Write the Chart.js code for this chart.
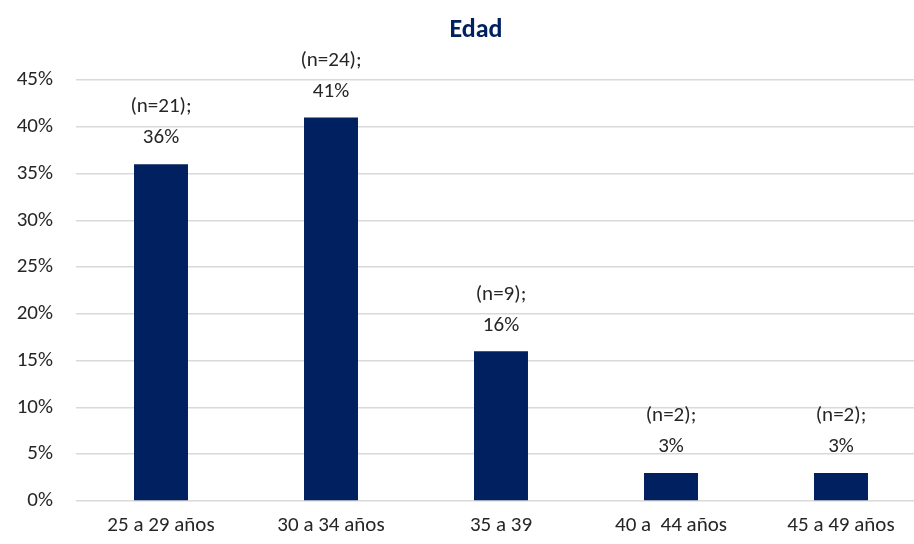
<!DOCTYPE html>
<html>
<head>
<meta charset="utf-8">
<script src="https://cdn.jsdelivr.net/npm/chart.js@4"></script>
<style>
  html, body { margin: 0; padding: 0; background: #fff; overflow: hidden; }
  #wrap { width: 914px; height: 544px; overflow: hidden; position: relative; }
  canvas { display: block; }
</style>
</head>
<body>
<div id="wrap"><canvas id="c" width="930" height="544"></canvas></div>
<script>
const categories = ["25 a 29 años", "30 a 34 años", "35 a 39", "40 a  44 años", "45 a 49 años"];
const percentValues = [36, 41, 16, 3, 3];
const countValues = [21, 24, 9, 2, 2];
const yTickMax = 45;
const yTickStep = 5;
const chartTitle = "Edad";

const FONT = "Carlito, Lato, 'Liberation Sans', sans-serif";

const labelPlugin = {
  id: 'barLabels',
  afterDatasetsDraw(chart) {
    const ctx = chart.ctx;
    const meta = chart.getDatasetMeta(0);
    ctx.save();
    ctx.fillStyle = '#262626';
    ctx.font = '21px ' + FONT;
    ctx.textAlign = 'center';
    ctx.textBaseline = 'middle';
    meta.data.forEach((bar, i) => {
      const x = bar.x;
      const top = bar.y;
      ctx.fillText(percentValues[i] + '%', x, top - 26);
      ctx.fillText('(n=' + countValues[i] + ');', x, top - 57);
    });
    ctx.restore();
  }
};

const titlePlugin = {
  id: 'customTitle',
  afterDraw(chart) {
    const ctx = chart.ctx;
    ctx.save();
    ctx.fillStyle = '#002060';
    ctx.font = 'bold 26px ' + FONT;
    ctx.textAlign = 'center';
    ctx.textBaseline = 'alphabetic';
    ctx.fillText(chartTitle, 476, 37);
    ctx.restore();
  }
};

new Chart(document.getElementById('c'), {
  type: 'bar',
  data: {
    labels: categories,
    datasets: [{
      data: percentValues,
      backgroundColor: '#002060',
      borderWidth: 0,
      barPercentage: 0.635,
      categoryPercentage: 0.5
    }]
  },
  options: {
    responsive: false,
    animation: false,
    devicePixelRatio: 1,
    layout: { padding: { left: 0, right: 4, top: 80, bottom: 0 } },
    plugins: {
      legend: { display: false },
      tooltip: { enabled: false },
      title: { display: false }
    },
    scales: {
      x: {
        grid: { display: false, drawTicks: false },
        border: { display: false },
        ticks: { color: '#262626', font: { family: FONT, size: 21 }, padding: 12, maxRotation: 0, autoSkip: false },
        afterFit(s) { s.height = 43; }
      },
      y: {
        min: 0,
        max: yTickMax,
        ticks: {
          stepSize: yTickStep,
          color: '#262626',
          font: { family: FONT, size: 21 },
          padding: 23,
          callback: v => v + '%'
        },
        grid: { color: '#d9d9d9', lineWidth: 1.5, drawTicks: false },
        border: { display: false },
        afterFit(s) { s.width = 76; }
      }
    }
  },
  plugins: [labelPlugin, titlePlugin]
});
</script>
</body>
</html>
